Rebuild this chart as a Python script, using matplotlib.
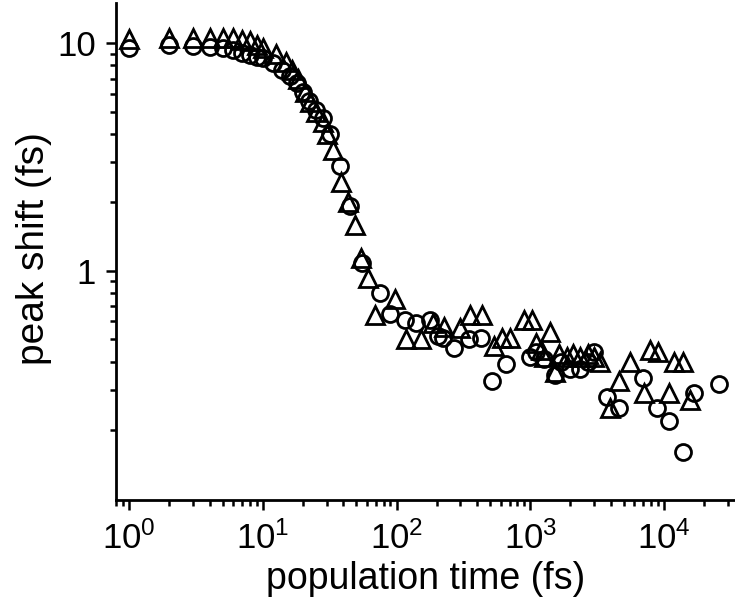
import numpy as np
import matplotlib
matplotlib.use('Agg')
import matplotlib.pyplot as plt
from matplotlib.ticker import LogLocator, NullFormatter, FixedLocator

plt.rcParams['font.family'] = ['Liberation Sans', 'DejaVu Sans']

# circles (series 1): population time (fs), peak shift (fs)
t_circ = [1, 2, 3, 4, 5, 6, 7, 8, 9, 10, 12, 14, 16, 18, 20, 22, 25, 28, 32,
          38, 45, 55, 75, 89, 115, 139, 177, 203, 222, 270, 350, 425, 522, 655,
          1000, 1100, 1260, 1530, 1700, 1980, 2360, 2700, 3000, 3750, 4650,
          7000, 8800, 10900, 13800, 16700, 26000]
ps_circ = [9.5, 9.8, 9.7, 9.6, 9.5, 9.3, 9.1, 8.9, 8.7, 8.6, 8.2, 7.6, 7.2, 6.7,
           6.1, 5.6, 5.1, 4.7, 4.0, 2.9, 1.93, 1.08, 0.80, 0.65, 0.61, 0.59,
           0.61, 0.52, 0.51, 0.46, 0.50, 0.51, 0.33, 0.39, 0.42, 0.44, 0.41,
           0.35, 0.40, 0.37, 0.37, 0.40, 0.44, 0.28, 0.25, 0.34, 0.25, 0.22,
           0.16, 0.29, 0.32]

# triangles (series 2)
t_tri = [1, 2, 3, 4, 5, 6, 7, 8, 9, 10, 12.6, 14.8, 16.4, 18.4, 20.8, 22.7,
         25.1, 28.3, 30, 33.6, 38.5, 43.4, 49, 54.5, 61, 69, 97, 117, 152, 186,
         228, 300, 357, 438, 540, 620, 710, 900, 1030, 1110, 1200, 1260, 1400,
         1530, 1650, 1880, 2100, 2360, 2700, 3000, 3300, 3950, 4600, 5600,
         7100, 7800, 9100, 11000, 11800, 14000, 15700]
ps_tri = [10.4, 10.6, 10.5, 10.6, 10.6, 10.5, 10.3, 10.2, 9.8, 9.5, 9.0, 8.3,
          7.6, 7.0, 6.1, 5.5, 5.0, 4.5, 4.0, 3.4, 2.45, 2.0, 1.59, 1.14, 0.93,
          0.64, 0.75, 0.50, 0.50, 0.59, 0.57, 0.56, 0.64, 0.64, 0.47, 0.51,
          0.51, 0.61, 0.61, 0.48, 0.45, 0.42, 0.54, 0.36, 0.43, 0.42, 0.43,
          0.42, 0.43, 0.42, 0.40, 0.25, 0.33, 0.40, 0.29, 0.45, 0.44, 0.29,
          0.40, 0.40, 0.27]

x_major = [1, 10, 100, 1000, 10000]
x_labels = [r'$\mathregular{10^{%d}}$' % i for i in range(5)]
y_major = [1, 10]
y_labels = ['1', '10']

fig = plt.figure(figsize=(7.35, 6), dpi=100)
ax = fig.add_axes([0.158, 0.1667, 0.842, 0.828])

ax.plot(t_tri, ps_tri, linestyle='none', marker='^', markersize=13,
        markerfacecolor='none', markeredgecolor='black', markeredgewidth=2.0,
        clip_on=False)
ax.plot(t_circ, ps_circ, linestyle='none', marker='o', markersize=11.5,
        markerfacecolor='none', markeredgecolor='black', markeredgewidth=2.0,
        clip_on=False)

ax.set_xscale('log')
ax.set_yscale('log')
ax.set_xlim(0.8, 3.4e4)
ax.set_ylim(0.0986, 15)

ax.xaxis.set_major_locator(FixedLocator(x_major))
ax.set_xticklabels(x_labels)
ax.xaxis.set_minor_locator(LogLocator(base=10, subs=np.arange(2, 10)))
ax.xaxis.set_minor_formatter(NullFormatter())
ax.yaxis.set_major_locator(FixedLocator(y_major))
ax.set_yticklabels(y_labels)
ax.yaxis.set_minor_locator(LogLocator(base=10, subs=np.arange(2, 10)))
ax.yaxis.set_minor_formatter(NullFormatter())

for s in ['top', 'right']:
    ax.spines[s].set_visible(False)
for s in ['left', 'bottom']:
    ax.spines[s].set_linewidth(2.0)

ax.tick_params(which='major', direction='out', length=7.5, width=1.8,
               labelsize=25, pad=7)
ax.tick_params(which='minor', direction='out', length=4.5, width=1.8)
ax.tick_params(axis='x', which='major', pad=8)

ax.set_xlabel('population time (fs)', fontsize=27)
ax.xaxis.set_label_coords(0.5, -0.122)
ax.set_ylabel('peak shift (fs)', fontsize=28)
ax.yaxis.set_label_coords(-0.103, 0.507)

fig.savefig('out.png', dpi=100)
